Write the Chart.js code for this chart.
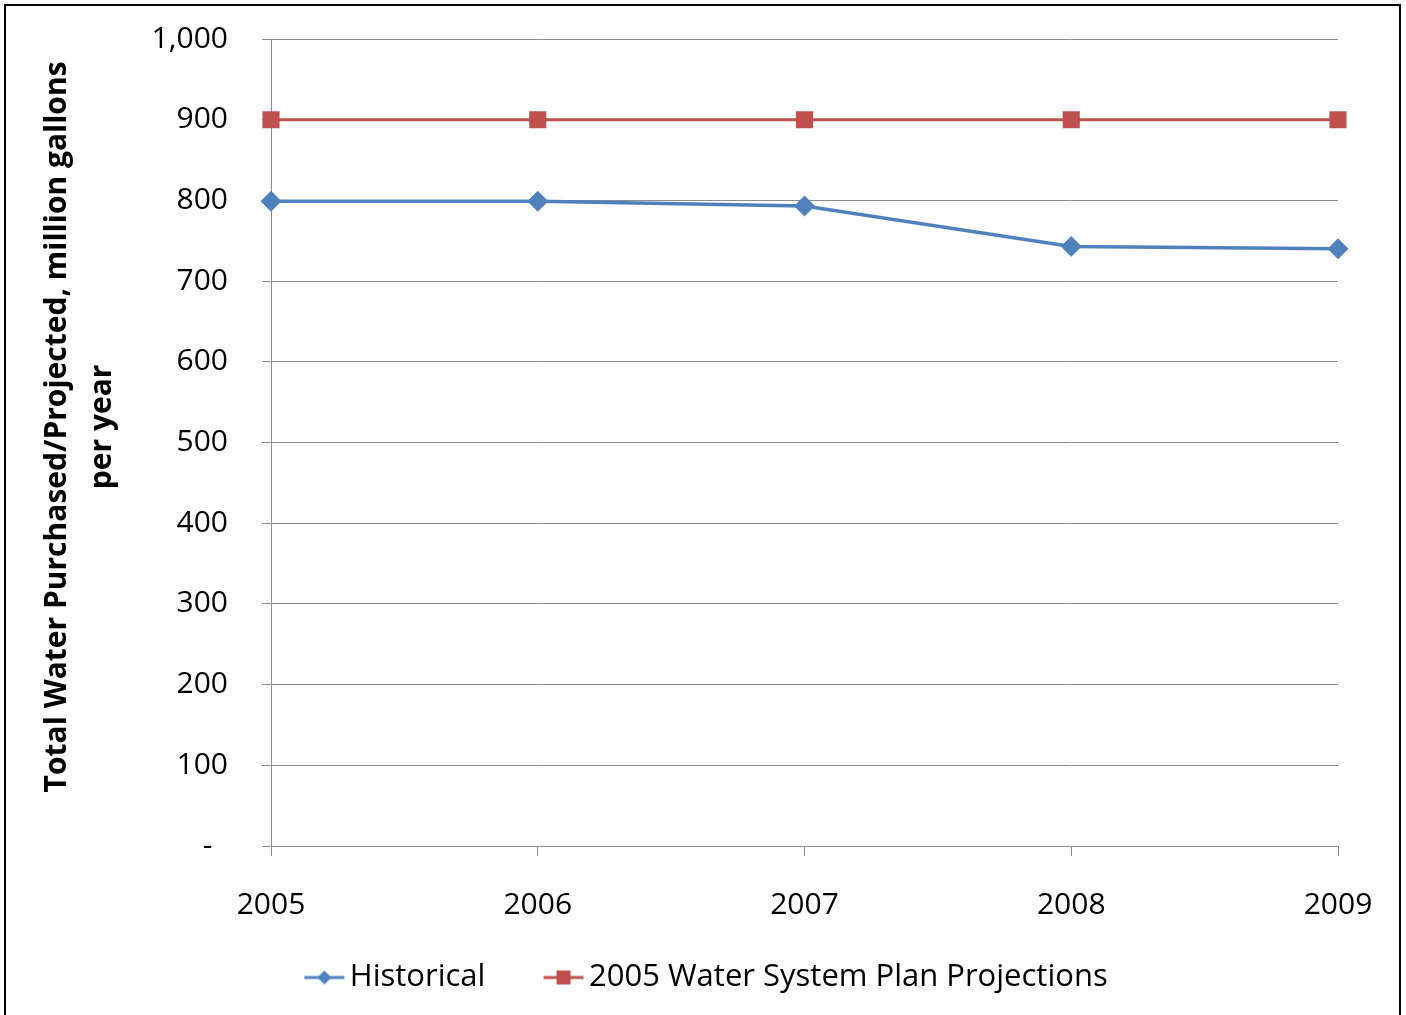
<!DOCTYPE html>
<html>
<head>
<meta charset="utf-8">
<script src="https://cdn.jsdelivr.net/npm/chart.js@4"></script>
<style>
  body { margin: 0; background: #fff; }
  #wrap { position: relative; width: 1406px; height: 1015px; overflow: hidden; }
  #frame { position: absolute; left: 4px; top: 4px; width: 1393px; height: 1030px; border: 2px solid #000; pointer-events: none; }
</style>
</head>
<body>
<div id="wrap">
  <canvas id="chart" width="1406" height="1015"></canvas>
  <div id="frame"></div>
</div>
<script>
const years = ["2005", "2006", "2007", "2008", "2009"];
const historical = [799, 799, 793, 743, 740];
const projections = [900, 900, 900, 900, 900];
const yTicks = [0, 100, 200, 300, 400, 500, 600, 700, 800, 900, 1000];

const BLUE = "#4F81BD";
const RED = "#C0504D";
const GRID = "#8c8c8c";
const FONT = "Open Sans";

// legend marker: short line with the series marker in the middle
function legendIcon(color, shape) {
  const c = document.createElement("canvas");
  c.width = 60;
  c.height = 20;
  const g = c.getContext("2d");
  g.strokeStyle = color;
  g.fillStyle = color;
  g.lineWidth = 3;
  g.beginPath();
  g.moveTo(18, 10);
  g.lineTo(58, 10);
  g.stroke();
  g.beginPath();
  if (shape === "diamond") {
    g.moveTo(38, 3);
    g.lineTo(45, 10);
    g.lineTo(38, 17);
    g.lineTo(31, 10);
  } else {
    g.rect(31, 3, 14, 14);
  }
  g.closePath();
  g.fill();
  return c;
}

const icons = [legendIcon(BLUE, "diamond"), legendIcon(RED, "square")];

const ctx = document.getElementById("chart").getContext("2d");
new Chart(ctx, {
  type: "line",
  data: {
    labels: years,
    datasets: [
      {
        label: "Historical",
        data: historical,
        borderColor: BLUE,
        backgroundColor: BLUE,
        borderWidth: 3.5,
        pointStyle: "rectRot",
        pointRadius: 8,
        tension: 0,
      },
      {
        label: "2005 Water System Plan Projections",
        data: projections,
        borderColor: RED,
        backgroundColor: RED,
        borderWidth: 3,
        pointStyle: "rect",
        pointRadius: 10,
        tension: 0,
      },
    ],
  },
  options: {
    responsive: false,
    animation: false,
    events: [],
    layout: { padding: { left: 0, right: 0, top: 39, bottom: 12 } },
    plugins: {
      tooltip: { enabled: false },
      legend: {
        position: "bottom",
        labels: {
          usePointStyle: true,
          pointStyleWidth: 36,
          padding: 28,
          color: "#000",
          font: { family: FONT, size: 31 },
          generateLabels: (chart) =>
            chart.data.datasets.map((ds, i) => ({
              text: i === 0 ? ds.label + "   " : ds.label,
              pointStyle: icons[i],
              datasetIndex: i,
              lineWidth: 0,
              fontColor: "#000",
            })),
        },
      },
    },
    scales: {
      x: {
        offset: false,
        afterFit: (scale) => {
          scale.height = 88;
          scale.paddingRight = 68;
        },
        grid: { display: true, drawOnChartArea: false, tickLength: 10, color: GRID, lineWidth: 1 },
        border: { color: GRID, width: 1 },
        ticks: { color: "#000", font: { family: FONT, size: 30 }, padding: 31, maxRotation: 0, autoSkip: false },
      },
      y: {
        min: 0,
        max: 1000,
        afterFit: (scale) => {
          scale.width = 271;
          scale.paddingTop = 18;
          scale.paddingBottom = 18;
        },
        afterBuildTicks: (scale) => { scale.ticks = yTicks.map((v) => ({ value: v })); },
        grid: { color: GRID, lineWidth: 1, tickLength: 9 },
        border: { color: GRID, width: 1 },
        ticks: {
          color: "#000",
          font: { family: FONT, size: 30 },
          padding: 34,
          callback: (v) => (v === 0 ? "-  " : v.toLocaleString("en-US")),
        },
        title: {
          display: true,
          text: ["    Total Water Purchased/Projected, million gallons", "    per year"],
          color: "#000",
          font: { family: FONT, size: 30, weight: "bold", lineHeight: 1.5 },
          padding: { top: 35, bottom: 0 },
        },
      },
    },
  },
});
</script>
</body>
</html>
